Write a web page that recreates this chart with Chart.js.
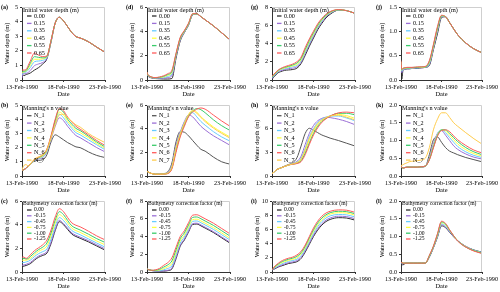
<!DOCTYPE html>
<html>
<head>
<meta charset="utf-8">
<script src="https://cdn.jsdelivr.net/npm/chart.js@4.4.1/dist/chart.umd.min.js"></script>
<style>
  html, body { margin: 0; padding: 0; background: #fff; overflow: hidden; }
  #wrap { position: relative; width: 500px; height: 292px; }
  canvas { position: absolute; }
  .lab { position: absolute; font: bold 6px "Liberation Serif", serif; color: #000; line-height: 7px; }
</style>
</head>
<body>
<div id="wrap"></div>
<script>
// days since 13-Feb-1990
const days = [0, 0.1, 0.25, 0.5, 0.75, 1, 1.5, 2, 2.5, 3, 3.5, 4, 4.5, 5, 5.5, 6, 6.5, 7, 8, 9, 10];
const dateLabels = ['13-Feb-1990', '18-Feb-1990', '23-Feb-1990'];

const initLabels = ['0.00', '0.15', '0.35', '0.45', '0.55', '0.65'];
const manningLabels = ['N_1', 'N_2', 'N_3', 'N_4', 'N_5', 'N_6', 'N_7'];
const bathyLabels = ['0.00', '-0.15', '-0.45', '-0.75', '-1.00', '-1.25'];

// (a) initial water depth
const a0 = [0.0, 0.35, 0.3, 0.38, 0.42, 0.48, 0.68, 0.85, 1.1, 1.45, 2.6, 3.9, 4.3, 4.05, 3.65, 3.25, 2.97, 2.88, 2.62, 2.25, 1.9];
const a1 = [0.15, 0.45, 0.42, 0.45, 0.52, 0.65, 0.98, 1.1, 1.2, 1.5, 2.65, 3.9, 4.3, 4.05, 3.65, 3.25, 2.97, 2.88, 2.62, 2.25, 1.9];
const a2 = [0.35, 0.5, 0.5, 0.55, 0.68, 0.85, 1.25, 1.3, 1.35, 1.55, 2.68, 3.9, 4.3, 4.05, 3.65, 3.25, 2.97, 2.88, 2.62, 2.25, 1.9];
const a3 = [0.45, 0.55, 0.55, 0.6, 0.78, 1.0, 1.42, 1.42, 1.45, 1.6, 2.7, 3.9, 4.3, 4.05, 3.65, 3.25, 2.97, 2.88, 2.62, 2.25, 1.9];
const a4 = [0.55, 0.6, 0.6, 0.65, 0.88, 1.15, 1.6, 1.55, 1.52, 1.62, 2.7, 3.9, 4.3, 4.05, 3.65, 3.25, 2.97, 2.88, 2.62, 2.25, 1.9];
const a5 = [0.65, 0.68, 0.68, 0.72, 1.0, 1.3, 1.85, 1.7, 1.6, 1.65, 2.72, 3.9, 4.3, 4.05, 3.65, 3.25, 2.97, 2.88, 2.62, 2.25, 1.9];
// (d)
const d0 = [0.6, 0.35, 0.25, 0.18, 0.15, 0.12, 0.1, 0.08, 0.08, 0.12, 1.8, 3.2, 3.9, 4.5, 5.35, 5.42, 5.2, 4.95, 4.45, 3.88, 3.3];
const d1 = [0.6, 0.37, 0.27, 0.2, 0.17, 0.15, 0.15, 0.15, 0.2, 0.35, 1.95, 3.28, 3.93, 4.55, 5.38, 5.43, 5.2, 4.95, 4.45, 3.88, 3.3];
const d2 = [0.61, 0.39, 0.29, 0.22, 0.18, 0.17, 0.18, 0.2, 0.3, 0.5, 2.05, 3.35, 3.97, 4.58, 5.4, 5.44, 5.2, 4.95, 4.45, 3.88, 3.3];
const d3 = [0.62, 0.41, 0.31, 0.24, 0.19, 0.18, 0.2, 0.25, 0.38, 0.6, 2.1, 3.4, 4.0, 4.6, 5.42, 5.44, 5.2, 4.95, 4.45, 3.88, 3.3];
const d4 = [0.63, 0.43, 0.33, 0.25, 0.2, 0.19, 0.22, 0.3, 0.45, 0.7, 2.15, 3.45, 4.03, 4.63, 5.43, 5.45, 5.2, 4.95, 4.45, 3.88, 3.3];
const d5 = [0.65, 0.45, 0.35, 0.26, 0.21, 0.2, 0.25, 0.35, 0.52, 0.8, 2.2, 3.5, 4.07, 4.67, 5.45, 5.45, 5.2, 4.95, 4.45, 3.88, 3.3];
// (g)
const g0 = [0.0, 0.2, 0.35, 0.6, 0.8, 0.9, 1.05, 1.1, 1.15, 1.3, 1.8, 2.7, 3.7, 4.6, 5.5, 6.2, 6.8, 7.2, 7.65, 7.6, 7.3];
const g1 = [0.15, 0.3, 0.45, 0.7, 0.9, 1.0, 1.15, 1.25, 1.3, 1.45, 1.95, 2.9, 3.9, 4.8, 5.7, 6.35, 6.9, 7.3, 7.67, 7.6, 7.3];
const g2 = [0.25, 0.35, 0.5, 0.75, 0.95, 1.1, 1.25, 1.35, 1.45, 1.6, 2.1, 3.05, 4.05, 4.95, 5.8, 6.45, 7.0, 7.35, 7.68, 7.6, 7.3];
const g3 = [0.3, 0.4, 0.55, 0.8, 1.0, 1.15, 1.3, 1.45, 1.55, 1.7, 2.2, 3.2, 4.2, 5.05, 5.9, 6.55, 7.05, 7.4, 7.7, 7.6, 7.3];
const g4 = [0.35, 0.45, 0.6, 0.85, 1.05, 1.2, 1.38, 1.5, 1.65, 1.85, 2.35, 3.35, 4.35, 5.2, 6.0, 6.65, 7.1, 7.45, 7.7, 7.6, 7.3];
const g5 = [0.45, 0.5, 0.65, 0.9, 1.1, 1.25, 1.45, 1.6, 1.75, 2.0, 2.5, 3.55, 4.5, 5.35, 6.15, 6.75, 7.2, 7.5, 7.72, 7.6, 7.3];
// (j)
const j0 = [0.3, 0.02, 0.2, 0.22, 0.23, 0.23, 0.24, 0.24, 0.25, 0.26, 0.3, 0.62, 0.95, 1.28, 1.3, 1.18, 1.05, 0.93, 0.76, 0.64, 0.56];
const j1 = [0.32, 0.15, 0.21, 0.22, 0.23, 0.23, 0.24, 0.25, 0.25, 0.26, 0.32, 0.65, 1.0, 1.3, 1.3, 1.18, 1.05, 0.93, 0.76, 0.64, 0.56];
const j2 = [0.35, 0.18, 0.22, 0.23, 0.24, 0.24, 0.25, 0.25, 0.26, 0.27, 0.34, 0.67, 1.03, 1.31, 1.3, 1.18, 1.05, 0.93, 0.76, 0.64, 0.56];
const j3 = [0.37, 0.2, 0.23, 0.24, 0.25, 0.25, 0.25, 0.26, 0.26, 0.27, 0.36, 0.69, 1.05, 1.32, 1.3, 1.18, 1.05, 0.93, 0.76, 0.64, 0.56];
const j4 = [0.38, 0.21, 0.24, 0.25, 0.25, 0.25, 0.26, 0.26, 0.27, 0.27, 0.38, 0.71, 1.07, 1.32, 1.3, 1.18, 1.05, 0.93, 0.76, 0.64, 0.56];
const j5 = [0.4, 0.22, 0.24, 0.25, 0.26, 0.26, 0.26, 0.27, 0.27, 0.28, 0.4, 0.73, 1.1, 1.33, 1.3, 1.18, 1.05, 0.93, 0.76, 0.64, 0.56];

// (b) Manning's n
const b1 = [0.4, 0.42, 0.45, 0.55, 0.7, 0.85, 1.05, 1.1, 1.15, 1.5, 2.4, 2.9, 2.75, 2.55, 2.35, 2.2, 2.05, 2.0, 1.7, 1.45, 1.3];
const b2 = [0.4, 0.42, 0.45, 0.55, 0.7, 0.85, 1.1, 1.2, 1.3, 1.7, 2.6, 3.5, 4.1, 3.9, 3.5, 3.15, 2.85, 2.7, 2.35, 2.0, 1.7];
const b3 = [0.4, 0.42, 0.45, 0.55, 0.7, 0.85, 1.1, 1.25, 1.35, 1.75, 2.7, 3.7, 4.35, 4.1, 3.7, 3.35, 3.05, 2.9, 2.55, 2.2, 1.85];
const b4 = [0.4, 0.42, 0.45, 0.55, 0.7, 0.85, 1.12, 1.28, 1.4, 1.8, 2.75, 3.8, 4.5, 4.3, 3.85, 3.5, 3.2, 3.05, 2.7, 2.3, 1.95];
const b5 = [0.4, 0.42, 0.45, 0.55, 0.7, 0.85, 1.15, 1.3, 1.45, 1.85, 2.8, 3.9, 4.7, 4.5, 4.0, 3.65, 3.35, 3.2, 2.8, 2.4, 2.05];
const b6 = [0.4, 0.42, 0.45, 0.55, 0.7, 0.85, 1.15, 1.32, 1.5, 1.9, 2.85, 4.0, 4.75, 4.6, 4.15, 3.8, 3.5, 3.3, 2.9, 2.5, 2.15];
const b7 = [0.45, 0.6, 0.75, 0.8, 0.7, 0.85, 1.2, 1.35, 1.5, 1.85, 2.7, 3.6, 4.3, 4.35, 4.1, 3.85, 3.6, 3.45, 3.0, 2.65, 2.35];
// (e)
const e1 = [0.4, 0.35, 0.3, 0.22, 0.18, 0.15, 0.15, 0.2, 0.35, 1.1, 2.9, 3.75, 3.7, 3.4, 3.0, 2.6, 2.25, 2.1, 1.6, 1.2, 1.0];
const e2 = [0.4, 0.35, 0.3, 0.22, 0.18, 0.15, 0.15, 0.18, 0.28, 0.85, 2.6, 3.7, 4.6, 5.15, 5.0, 4.6, 4.2, 3.9, 3.4, 3.0, 2.6];
const e3 = [0.4, 0.35, 0.3, 0.22, 0.18, 0.15, 0.15, 0.18, 0.26, 0.78, 2.45, 3.6, 4.5, 5.2, 5.35, 5.0, 4.6, 4.3, 3.75, 3.3, 2.95];
const e4 = [0.4, 0.35, 0.3, 0.22, 0.18, 0.15, 0.15, 0.17, 0.24, 0.72, 2.3, 3.5, 4.4, 5.15, 5.55, 5.4, 5.0, 4.7, 4.15, 3.7, 3.3];
const e5 = [0.4, 0.35, 0.3, 0.22, 0.18, 0.15, 0.15, 0.17, 0.22, 0.66, 2.15, 3.4, 4.3, 5.05, 5.5, 5.7, 5.6, 5.35, 4.75, 4.25, 3.85];
const e6 = [0.4, 0.35, 0.3, 0.22, 0.18, 0.15, 0.15, 0.16, 0.2, 0.6, 2.0, 3.3, 4.2, 5.0, 5.4, 5.65, 5.75, 5.65, 5.15, 4.65, 4.2];
const e7 = [0.4, 0.35, 0.3, 0.22, 0.18, 0.15, 0.15, 0.17, 0.25, 0.75, 2.4, 3.55, 4.45, 5.2, 5.5, 5.3, 4.95, 4.6, 4.05, 3.6, 3.2];
// (h)
const h1 = [0.3, 0.38, 0.5, 0.75, 0.9, 1.0, 1.25, 1.45, 1.7, 2.3, 3.8, 5.4, 6.05, 5.8, 5.5, 5.2, 5.0, 4.8, 4.5, 4.15, 3.8];
const h2 = [0.3, 0.38, 0.5, 0.75, 0.9, 1.0, 1.2, 1.42, 1.6, 1.85, 2.5, 4.0, 5.4, 6.4, 7.0, 7.3, 7.45, 7.4, 7.2, 6.9, 6.5];
const h3 = [0.3, 0.38, 0.5, 0.75, 0.9, 1.0, 1.2, 1.4, 1.55, 1.75, 2.25, 3.5, 5.0, 6.0, 6.8, 7.2, 7.45, 7.6, 7.6, 7.35, 7.0];
const h4 = [0.3, 0.38, 0.5, 0.75, 0.9, 1.0, 1.2, 1.4, 1.52, 1.68, 2.05, 3.2, 4.6, 5.7, 6.5, 7.0, 7.35, 7.6, 7.8, 7.65, 7.3];
const h5 = [0.3, 0.38, 0.5, 0.75, 0.9, 1.0, 1.2, 1.4, 1.5, 1.62, 1.92, 2.9, 4.2, 5.4, 6.3, 6.9, 7.3, 7.6, 7.95, 7.95, 7.75];
const h6 = [0.3, 0.38, 0.5, 0.75, 0.9, 1.0, 1.2, 1.4, 1.48, 1.58, 1.82, 2.7, 4.0, 5.2, 6.1, 6.8, 7.25, 7.6, 8.0, 8.1, 8.0];
const h7 = [0.3, 0.38, 0.5, 0.75, 0.9, 1.0, 1.2, 1.4, 1.53, 1.7, 2.15, 3.35, 4.8, 5.85, 6.65, 7.1, 7.4, 7.6, 7.7, 7.45, 7.1];
// (k)
const k1 = [0.3, 0.25, 0.22, 0.24, 0.25, 0.25, 0.25, 0.25, 0.25, 0.27, 0.6, 1.02, 1.1, 0.95, 0.8, 0.7, 0.65, 0.6, 0.52, 0.46, 0.4];
const k2 = [0.3, 0.25, 0.22, 0.24, 0.25, 0.25, 0.25, 0.25, 0.26, 0.28, 0.5, 0.9, 1.2, 1.28, 1.15, 1.0, 0.85, 0.75, 0.62, 0.53, 0.48];
const k3 = [0.3, 0.25, 0.22, 0.24, 0.25, 0.25, 0.25, 0.25, 0.26, 0.28, 0.48, 0.85, 1.18, 1.3, 1.22, 1.08, 0.95, 0.83, 0.68, 0.58, 0.52];
const k4 = [0.3, 0.25, 0.22, 0.24, 0.25, 0.25, 0.25, 0.25, 0.26, 0.28, 0.47, 0.83, 1.16, 1.3, 1.27, 1.15, 1.02, 0.9, 0.74, 0.63, 0.56];
const k5 = [0.3, 0.25, 0.22, 0.24, 0.25, 0.25, 0.25, 0.25, 0.26, 0.28, 0.46, 0.81, 1.14, 1.3, 1.3, 1.2, 1.08, 0.97, 0.8, 0.68, 0.6];
const k6 = [0.3, 0.25, 0.22, 0.24, 0.25, 0.25, 0.25, 0.25, 0.26, 0.28, 0.45, 0.79, 1.12, 1.28, 1.3, 1.25, 1.13, 1.02, 0.86, 0.73, 0.65];
const k7 = [0.3, 0.3, 0.32, 0.35, 0.37, 0.4, 0.42, 0.43, 0.45, 0.5, 0.8, 1.3, 1.6, 1.78, 1.78, 1.65, 1.5, 1.4, 1.22, 1.05, 0.9];

// (c) bathymetry correction
const c0 = [0.45, 0.48, 0.5, 0.55, 0.62, 0.7, 1.0, 1.25, 1.4, 1.6, 2.4, 3.5, 4.25, 4.0, 3.6, 3.2, 3.0, 2.85, 2.55, 2.2, 1.85];
const c1 = [0.55, 0.58, 0.6, 0.65, 0.72, 0.8, 1.1, 1.35, 1.5, 1.72, 2.52, 3.62, 4.37, 4.1, 3.7, 3.3, 3.1, 2.95, 2.65, 2.3, 1.95];
const c2 = [0.75, 0.8, 0.8, 0.85, 0.9, 1.0, 1.3, 1.55, 1.72, 1.95, 2.78, 3.87, 4.6, 4.35, 3.92, 3.5, 3.3, 3.15, 2.8, 2.45, 2.1];
const c3 = [0.95, 1.0, 1.0, 1.0, 1.05, 1.15, 1.45, 1.75, 1.92, 2.2, 3.05, 4.12, 4.85, 4.6, 4.15, 3.7, 3.5, 3.35, 3.0, 2.62, 2.3];
const c4 = [1.05, 1.15, 1.15, 1.1, 1.15, 1.3, 1.62, 1.9, 2.1, 2.45, 3.3, 4.38, 5.1, 4.85, 4.35, 3.9, 3.7, 3.55, 3.2, 2.82, 2.5];
const c5 = [1.2, 1.28, 1.25, 1.15, 1.25, 1.45, 1.8, 2.05, 2.3, 2.7, 3.55, 4.65, 5.35, 5.1, 4.6, 4.15, 3.95, 3.82, 3.45, 3.05, 2.72];
// (f)
const f0 = [0.4, 0.3, 0.25, 0.18, 0.14, 0.12, 0.1, 0.1, 0.15, 0.35, 1.5, 2.9, 3.6, 4.5, 5.35, 5.4, 5.2, 4.95, 4.45, 3.85, 3.25];
const f1 = [0.4, 0.3, 0.25, 0.18, 0.14, 0.12, 0.1, 0.12, 0.2, 0.45, 1.65, 3.0, 3.7, 4.6, 5.45, 5.5, 5.3, 5.05, 4.55, 3.95, 3.35];
const f2 = [0.4, 0.3, 0.25, 0.18, 0.15, 0.14, 0.15, 0.25, 0.4, 0.7, 1.95, 3.25, 3.95, 4.85, 5.7, 5.75, 5.55, 5.3, 4.8, 4.2, 3.6];
const f3 = [0.4, 0.3, 0.25, 0.19, 0.16, 0.17, 0.22, 0.38, 0.6, 0.95, 2.2, 3.5, 4.15, 5.05, 5.9, 5.95, 5.75, 5.5, 5.0, 4.4, 3.8];
const f4 = [0.4, 0.3, 0.25, 0.2, 0.18, 0.2, 0.3, 0.55, 0.8, 1.25, 2.5, 3.75, 4.4, 5.3, 6.15, 6.2, 6.0, 5.75, 5.25, 4.65, 4.05];
const f5 = [0.4, 0.3, 0.25, 0.2, 0.2, 0.24, 0.4, 0.75, 1.05, 1.6, 2.8, 4.0, 4.65, 5.55, 6.4, 6.45, 6.25, 6.0, 5.5, 4.9, 4.3];
// (i)
const i0 = [0.3, 0.32, 0.4, 0.55, 0.7, 0.8, 1.0, 1.2, 1.3, 1.45, 1.9, 2.8, 3.9, 5.0, 5.9, 6.6, 7.1, 7.4, 7.65, 7.6, 7.3];
const i1 = [0.3, 0.34, 0.45, 0.62, 0.78, 0.9, 1.12, 1.32, 1.42, 1.6, 2.05, 2.98, 4.08, 5.2, 6.1, 6.8, 7.3, 7.6, 7.85, 7.8, 7.5];
const i2 = [0.3, 0.36, 0.52, 0.72, 0.9, 1.05, 1.3, 1.5, 1.62, 1.8, 2.3, 3.2, 4.35, 5.45, 6.4, 7.1, 7.6, 7.9, 8.1, 8.05, 7.75];
const i3 = [0.3, 0.38, 0.58, 0.82, 1.02, 1.2, 1.45, 1.65, 1.78, 2.0, 2.5, 3.4, 4.55, 5.7, 6.65, 7.35, 7.85, 8.15, 8.35, 8.3, 8.0];
const i4 = [0.3, 0.4, 0.64, 0.92, 1.12, 1.32, 1.6, 1.8, 1.95, 2.2, 2.7, 3.6, 4.8, 5.95, 6.9, 7.6, 8.05, 8.35, 8.55, 8.5, 8.2];
const i5 = [0.3, 0.42, 0.7, 1.0, 1.22, 1.45, 1.75, 1.95, 2.1, 2.4, 2.9, 3.8, 5.0, 6.2, 7.15, 7.85, 8.3, 8.55, 8.75, 8.7, 8.4];
// (l)
const l0 = [0.27, 0.22, 0.2, 0.24, 0.25, 0.25, 0.25, 0.25, 0.25, 0.25, 0.42, 0.68, 0.98, 1.3, 1.25, 1.12, 0.99, 0.88, 0.72, 0.62, 0.56];
const l1 = [0.27, 0.24, 0.23, 0.25, 0.25, 0.25, 0.25, 0.25, 0.25, 0.25, 0.43, 0.69, 1.0, 1.33, 1.27, 1.13, 1.0, 0.88, 0.72, 0.61, 0.55];
const l2 = [0.27, 0.25, 0.24, 0.25, 0.25, 0.25, 0.25, 0.25, 0.25, 0.25, 0.44, 0.7, 1.02, 1.36, 1.3, 1.15, 1.01, 0.88, 0.71, 0.61, 0.55];
const l3 = [0.28, 0.26, 0.25, 0.25, 0.25, 0.25, 0.25, 0.25, 0.25, 0.25, 0.45, 0.71, 1.04, 1.39, 1.33, 1.17, 1.02, 0.88, 0.71, 0.6, 0.54];
const l4 = [0.28, 0.26, 0.25, 0.25, 0.25, 0.25, 0.25, 0.25, 0.25, 0.25, 0.46, 0.72, 1.06, 1.41, 1.35, 1.18, 1.02, 0.88, 0.7, 0.6, 0.53];
const l5 = [0.28, 0.26, 0.25, 0.25, 0.25, 0.25, 0.25, 0.25, 0.25, 0.25, 0.47, 0.73, 1.08, 1.43, 1.37, 1.19, 1.02, 0.87, 0.7, 0.59, 0.52];

const sixColors = ['#2b2b2b', '#9b6fd6', '#66ccff', '#ffff40', '#39cc6a', '#ff5a5a'];
const sevenColors = ['#555555', '#9b6fd6', '#66ccff', '#ffff40', '#39cc6a', '#ff5a5a', '#ffcc4d'];

const FONT = '"Liberation Serif", "Times New Roman", serif';

// layout of the 3x4 grid
const cols = [
  {x: 0, left: 22, right: 105},
  {x: 125, left: 147, right: 230},
  {x: 250, left: 272, right: 355},
  {x: 375, left: 401, right: 482}
];
const rows = [
  {y: 0, top: 7, bottom: 80, legTitle: 3.7, legFirst: 9, legStep: 7.4, legSize: 6.2},
  {y: 95, top: 105, bottom: 176, legTitle: 3.3, legFirst: 10.7, legStep: 7.4, legSize: 6.2},
  {y: 190, top: 201, bottom: 272, legTitle: 3, legFirst: 9, legStep: 5.8, legSize: 5.6}
];

const panels = [
  {tag: '(a)', col: 0, row: 0, max: 5, step: 1, dec: 0, title: 'Initial water depth (m)', names: initLabels, colors: sixColors, series: [a0, a1, a2, a3, a4, a5]},
  {tag: '(d)', col: 1, row: 0, max: 6, step: 2, dec: 0, title: 'Initial water depth (m)', names: initLabels, colors: sixColors, series: [d0, d1, d2, d3, d4, d5]},
  {tag: '(g)', col: 2, row: 0, max: 8, step: 2, dec: 0, title: 'Initial water depth (m)', names: initLabels, colors: sixColors, series: [g0, g1, g2, g3, g4, g5]},
  {tag: '(j)', col: 3, row: 0, max: 1.5, step: 0.5, dec: 1, title: 'Initial water depth (m)', names: initLabels, colors: sixColors, series: [j0, j1, j2, j3, j4, j5]},
  {tag: '(b)', col: 0, row: 1, max: 5, step: 1, dec: 0, title: "Manning's n value", names: manningLabels, colors: sevenColors, series: [b1, b2, b3, b4, b5, b6, b7]},
  {tag: '(e)', col: 1, row: 1, max: 6, step: 2, dec: 0, title: "Manning's n value", names: manningLabels, colors: sevenColors, series: [e1, e2, e3, e4, e5, e6, e7]},
  {tag: '(h)', col: 2, row: 1, max: 9, step: 3, dec: 0, title: "Manning's n value", names: manningLabels, colors: sevenColors, series: [h1, h2, h3, h4, h5, h6, h7]},
  {tag: '(k)', col: 3, row: 1, max: 2, step: 0.5, dec: 1, title: "Manning's n value", names: manningLabels, colors: sevenColors, series: [k1, k2, k3, k4, k5, k6, k7]},
  {tag: '(c)', col: 0, row: 2, max: 6, step: 2, dec: 0, title: 'Bathymetry correction factor (m)', names: bathyLabels, colors: sixColors, series: [c0, c1, c2, c3, c4, c5]},
  {tag: '(f)', col: 1, row: 2, max: 8, step: 2, dec: 0, title: 'Bathymetry correction factor (m)', names: bathyLabels, colors: sixColors, series: [f0, f1, f2, f3, f4, f5]},
  {tag: '(i)', col: 2, row: 2, max: 10, step: 2, dec: 0, title: 'Bathymetry correction factor (m)', names: bathyLabels, colors: sixColors, series: [i0, i1, i2, i3, i4, i5]},
  {tag: '(l)', col: 3, row: 2, max: 2, step: 0.5, dec: 1, title: 'Bathymetry correction factor (m)', names: bathyLabels, colors: sixColors, series: [l0, l1, l2, l3, l4, l5]}
];

// legend inside the plot + light frame on top/right
const innerLegend = {
  id: 'innerLegend',
  afterDatasetsDraw(chart, args, opts) {
    const {ctx, chartArea: a} = chart;
    ctx.save();
    ctx.strokeStyle = '#cfcfcf';
    ctx.lineWidth = 1;
    ctx.beginPath();
    ctx.moveTo(a.left, a.top + 0.5);
    ctx.lineTo(a.right - 0.5, a.top + 0.5);
    ctx.lineTo(a.right - 0.5, a.bottom);
    ctx.stroke();

    ctx.font = opts.size + 'px ' + FONT;
    ctx.fillStyle = '#000';
    ctx.textAlign = 'left';
    ctx.textBaseline = 'middle';
    ctx.fillText(opts.title, a.left + 1, a.top + opts.titleDy);
    chart.data.datasets.forEach((ds, i) => {
      const y = a.top + opts.firstDy + i * opts.step;
      ctx.strokeStyle = ds.borderColor;
      ctx.lineWidth = 1.3;
      ctx.beginPath();
      ctx.moveTo(a.left + 5, y);
      ctx.lineTo(a.left + 9.5, y);
      ctx.stroke();
      ctx.fillText(ds.label, a.left + 12, y);
    });
    ctx.restore();
  }
};

const wrap = document.getElementById('wrap');

panels.forEach(p => {
  const c = cols[p.col];
  const r = rows[p.row];
  const xAxisH = 20;
  const cv = document.createElement('canvas');
  cv.width = 125;
  cv.height = Math.round(r.bottom - r.y + xAxisH);
  cv.style.left = c.x + 'px';
  cv.style.top = r.y + 'px';
  wrap.appendChild(cv);

  const lab = document.createElement('div');
  lab.className = 'lab';
  lab.textContent = p.tag;
  lab.style.left = (c.x + 1) + 'px';
  lab.style.top = (r.top - 3) + 'px';
  wrap.appendChild(lab);

  new Chart(cv, {
    type: 'line',
    data: {
      datasets: p.series.map((vals, i) => ({
        label: p.names[i],
        data: vals.map((v, k) => ({x: days[k], y: v})),
        borderColor: p.colors[i],
        borderWidth: 1,
        pointRadius: 0,
        tension: 0.4,
        cubicInterpolationMode: 'monotone',
        fill: false,
        order: p.series.length - i
      }))
    },
    options: {
      responsive: false,
      animation: false,
      layout: {padding: {left: 0, top: r.top - r.y, right: c.x + 125 - c.right, bottom: 0}},
      plugins: {
        legend: {display: false},
        tooltip: {enabled: false},
        innerLegend: {title: p.title, titleDy: r.legTitle, firstDy: r.legFirst, step: r.legStep, size: r.legSize}
      },
      scales: {
        x: {
          type: 'linear',
          min: 0,
          max: 10,
          afterFit: s => { s.height = xAxisH; },
          border: {display: true, color: '#333', width: 1},
          grid: {display: true, drawOnChartArea: false, drawTicks: true, tickLength: 2, color: '#333'},
          ticks: {
            stepSize: 5,
            autoSkip: false,
            maxRotation: 0,
            minRotation: 0,
            padding: 2,
            color: '#000',
            font: {family: FONT, size: 6.2},
            callback: v => dateLabels[v / 5]
          },
          title: {display: true, text: 'Date', color: '#000', padding: {top: 0, bottom: 2.2}, font: {family: FONT, size: 6.4}}
        },
        y: {
          min: 0,
          max: p.max,
          afterFit: s => { s.width = c.left - c.x; },
          border: {display: true, color: '#333', width: 1},
          grid: {display: true, drawOnChartArea: false, drawTicks: true, tickLength: 2, color: '#333'},
          ticks: {
            stepSize: p.step,
            padding: 2,
            color: '#000',
            font: {family: FONT, size: 6.2},
            callback: v => v.toFixed(p.dec)
          },
          title: {display: true, text: 'Water depth (m)', color: '#000', padding: {top: 3.6, bottom: 0}, font: {family: FONT, size: 6.4}}
        }
      }
    },
    plugins: [innerLegend]
  });
});
</script>
</body>
</html>
